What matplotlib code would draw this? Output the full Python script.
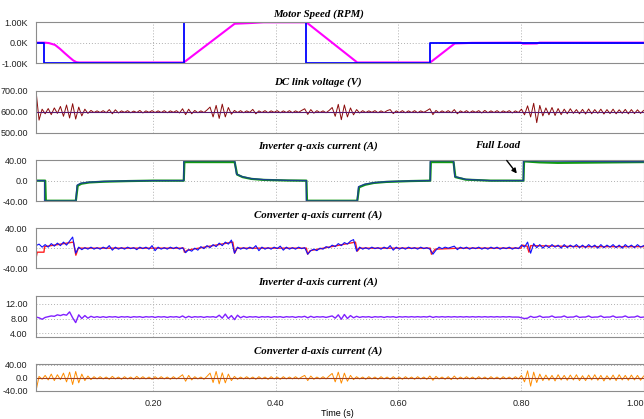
import matplotlib
matplotlib.use("Agg")
import matplotlib.pyplot as plt
import numpy as np

# ---- data ----
# motor speed (RPM): reference (blue) and measured (pink), as breakpoints
speed_ref_t = [0.009, 0.0228, 0.0228, 0.250, 0.250, 0.4495, 0.4495, 0.6517, 0.6517, 1.0]
speed_ref_v = [0, 0, -1000, -1000, 1000, 1000, -1000, -1000, 0, 0]
speed_t = [0.009, 0.023, 0.030, 0.040, 0.048, 0.056, 0.064, 0.070, 0.075, 0.080,
           0.250, 0.333, 0.360, 0.380, 0.450, 0.533, 0.652, 0.692, 0.720, 0.800,
           0.803, 0.826, 0.830, 1.0]
speed_v = [0, 0, -20, -110, -300, -520, -730, -880, -960, -975,
           -975, 930, 965, 1000, 1000, -975, -975, -40, -10, 0,
           -50, -40, 0, 0]

# inverter q-axis current (A): reference (blue) and measured (green)
iq_inv_ref_t = [0.009, 0.023, 0.023, 0.074, 0.076, 0.082, 0.095, 0.120, 0.160, 0.200,
                0.250, 0.250, 0.333, 0.336, 0.345, 0.360, 0.380, 0.420, 0.450, 0.450,
                0.533, 0.535, 0.545, 0.560, 0.580, 0.620, 0.652, 0.652, 0.690, 0.692,
                0.710, 0.750, 0.804, 0.804, 1.0]
iq_inv_ref_v = [0, 0, -40, -40, -9, -5, -3, -1.5, -0.5, 0,
                0, 39, 39, 13, 8, 4, 2, 0.5, 0, -40,
                -40, -12, -7, -4, -2, -0.5, 0, 39, 39, 8,
                2.5, 0, 0, 39, 37]
iq_inv_t = [0.009, 0.024, 0.025, 0.074, 0.077, 0.083, 0.096, 0.120, 0.160, 0.200,
            0.250, 0.251, 0.333, 0.337, 0.346, 0.360, 0.380, 0.420, 0.450, 0.451,
            0.533, 0.536, 0.546, 0.560, 0.580, 0.620, 0.652, 0.653, 0.690, 0.693,
            0.710, 0.750, 0.804, 0.805, 0.830, 0.860, 0.910, 1.0]
iq_inv_v = [0, 0, -39.5, -39.5, -10, -6, -3.5, -2, -0.8, 0,
            0, 36.5, 36.5, 12, 7, 3.5, 1.5, 0.3, 0, -39.5,
            -39.5, -13, -8, -4.5, -2.5, -0.8, 0, 36.5, 36.5, 7,
            2, 0, 0, 38, 36, 35, 35.5, 36.5]

# converter q-axis current (A): measured trend (red) and noisy reference (blue)
iq_conv_meas_t = [0.009, 0.011, 0.022, 0.023, 0.070, 0.074, 0.078, 0.250, 0.251, 0.256,
                  0.330, 0.333, 0.337, 0.450, 0.452, 0.456, 0.530, 0.533, 0.537, 0.652,
                  0.654, 0.660, 0.700, 0.800, 0.802, 0.810, 0.813, 0.816, 0.900, 1.0]
iq_conv_meas_v = [-20, -8, -8, 3, 12, -14, 0, 0, -8, -4,
                  12, -10, 0, 0, -12, -5, 12, -6, 0, 0,
                  -12, -2, 0, 0, 6, 4, -8, 5, 3, 3]
iq_conv_ref = [
    5, 8, 2, 7, 2, 9, 4, 10, 5, 12, 6, 14, 22, -10, 2, -3, 1, -2, 2, -2,
    1, -2, 2, -1, 5, -4, 2, -2, 1, -2, 2, -1, 1, -3, 2, -1, 2, -2, 5, -5,
    2, -2, 1, -2, 2, -1, 2, -2, 1, -9, -3, -6, 0, -4, 3, -1, 5, 1, 7, 3,
    10, 5, 12, 8, 16, -10, 2, -2, 1, -2, 2, -1, 5, -5, 2, -2, 1, -2, 2, -1,
    4, -4, 2, -2, 1, -2, 2, -1, 1, -12, -5, -2, -5, 0, -2, 3, 1, 6, 3, 9,
    5, 11, 8, 14, 17, -6, 2, -2, 1, -2, 2, -1, 1, -2, 2, -1, 5, -4, 2, -2,
    1, -2, 2, -1, 1, -2, 2, -1, 1, -2, -12, -4, 2, -1, 2, 0, 2, 4, -3, 2,
    -1, 2, -2, 1, -1, 2, -2, 1, -2, 2, -1, 2, -2, 1, -1, 2, -2, 1, -1, 6,
    2, 12, -10, 9, 1, 7, 0, 6, 1, 7, 2, 6, 0, 7, 1, 6, 2, 7, 1, 6,
    1, 7, 2, 6, 0, 7, 1, 6, 2, 7, 1, 6, 0, 7, 2, 6, 1, 7, 2, 5,
]

# DC link voltage (V), sampled every ~5 ms
vdc = [
    700, 560, 612, 590, 615, 586, 618, 592, 625, 578, 632, 570, 638, 565, 622, 580, 612, 592, 606, 596,
    604, 596, 605, 595, 610, 590, 609, 594, 604, 597, 605, 595, 603, 596, 606, 594, 604, 597, 605, 596,
    604, 596, 605, 595, 604, 597, 605, 594, 614, 586, 612, 590, 606, 595, 604, 596, 608, 622, 575, 630,
    568, 636, 575, 620, 588, 606, 596, 605, 595, 604, 597, 611, 590, 604, 596, 605, 595, 604, 597, 605,
    595, 604, 596, 605, 595, 604, 597, 606, 614, 587, 610, 593, 605, 596, 604, 595, 606, 620, 578, 635,
    562, 632, 575, 618, 585, 610, 594, 605, 596, 604, 597, 605, 595, 604, 596, 605, 610, 591, 604, 596,
    605, 595, 604, 596, 605, 595, 604, 597, 605, 614, 586, 606, 595, 604, 596, 605, 595, 610, 590, 604,
    596, 605, 595, 604, 597, 605, 594, 606, 595, 604, 596, 605, 595, 604, 597, 605, 594, 604, 596, 612,
    585, 628, 575, 640, 548, 630, 580, 618, 585, 620, 582, 615, 586, 612, 590, 614, 592, 610, 590, 611,
    589, 613, 590, 610, 592, 612, 589, 610, 591, 612, 590, 609, 592, 611, 590, 610, 591, 609, 592, 606,
]
vdc_ref = 600

# inverter d-axis current (A)
id_inv = [
    8.4, 8.2, 7.8, 8.3, 8.5, 8.7, 8.6, 9.0, 8.8, 9.1, 8.9, 9.8, 8.2, 6.9, 9.0, 8.0, 8.8, 8.1, 8.6, 8.3,
    8.5, 8.3, 8.5, 8.3, 8.5, 8.4, 8.5, 8.3, 8.5, 8.4, 8.5, 8.3, 8.5, 8.4, 8.5, 8.3, 8.5, 8.4, 8.5, 8.3,
    8.5, 8.4, 8.5, 8.3, 8.5, 8.4, 8.5, 8.3, 8.7, 8.2, 8.6, 8.3, 8.5, 8.4, 8.5, 8.3, 8.5, 8.4, 8.5, 8.3,
    8.9, 8.1, 9.2, 8.0, 8.8, 7.7, 8.9, 8.2, 8.6, 8.3, 8.5, 8.4, 8.5, 8.3, 8.5, 8.4, 8.5, 8.3, 8.5, 8.4,
    8.5, 8.3, 8.5, 8.4, 8.5, 8.3, 8.5, 8.4, 8.6, 8.2, 8.6, 8.3, 8.5, 8.4, 8.5, 8.3, 8.5, 8.7, 8.1, 9.0,
    7.8, 9.1, 8.0, 8.8, 8.2, 8.6, 8.3, 8.5, 8.4, 8.5, 8.3, 8.5, 8.4, 8.5, 8.3, 8.5, 8.4, 8.5, 8.3, 8.5,
    8.4, 8.5, 8.4, 8.5, 8.4, 8.5, 8.4, 8.5, 8.4, 8.6, 8.3, 8.5, 8.4, 8.5, 8.4, 8.5, 8.4, 8.5, 8.4, 8.5,
    8.4, 8.5, 8.4, 8.5, 8.4, 8.5, 8.4, 8.5, 8.4, 8.5, 8.4, 8.5, 8.4, 8.5, 8.4, 8.5, 8.4, 8.4, 8.4, 8.2,
    8.0, 8.1, 8.6, 8.3, 8.4, 8.7, 8.3, 8.4, 8.4, 8.7, 8.3, 8.4, 8.4, 8.7, 8.3, 8.4, 8.4, 8.7, 8.3, 8.4,
    8.4, 8.7, 8.3, 8.4, 8.4, 8.7, 8.3, 8.4, 8.4, 8.7, 8.3, 8.4, 8.4, 8.7, 8.3, 8.4, 8.4, 8.7, 8.3, 8.4,
]

# converter d-axis current (A)
id_conv = [
    -40, 5, -4, 8, -6, 12, -8, 10, -5, 15, -12, 18, -20, 20, -15, 12, -8, 6, -5, 4,
    -3, 4, -3, 3, -4, 5, -3, 3, -4, 4, -3, 3, -4, 5, -3, 4, -3, 3, -4, 4,
    -3, 4, -3, 3, -4, 4, -3, 3, 10, -10, 8, -6, 4, -3, 3, -4, 5, 15, -14, 20,
    -18, 16, -15, 12, -8, 5, -4, 3, -3, 4, -3, 3, -4, 4, -3, 3, -4, 4, -3, 3,
    -4, 4, -3, 3, -3, 4, -3, 3, 8, -8, 6, -4, 3, -3, 4, -3, 6, 14, -12, 18,
    -16, 15, -10, 8, -5, 4, -3, 3, -4, 4, -3, 3, -4, 4, -3, 3, -4, 4, -3, 3,
    -4, 4, -3, 3, -4, 4, -3, 3, -4, 6, -7, 5, -3, 3, -4, 4, -5, 6, -4, 3,
    -3, 4, -3, 3, -4, 4, -3, 3, -4, 4, -3, 3, -4, 4, -3, 3, -4, 4, -3, 8,
    -12, 22, -25, 18, -14, 12, -8, 9, -7, 8, -9, 10, -6, 8, -7, 9, -6, 10, -8, 7,
    -8, 9, -6, 10, -7, 8, -9, 7, -6, 9, -8, 10, -6, 8, -7, 9, -6, 8, -7, 6,
]
id_conv_ref = 0

titles = ["Motor Speed (RPM)", "DC link voltage (V)", "Inverter q-axis current (A)",
          "Converter q-axis current (A)", "Inverter d-axis current (A)",
          "Converter d-axis current (A)"]
yticks = [[-1000, 0, 1000], [500, 600, 700], [-40, 0, 40], [-40, 0, 40], [4, 8, 12], [-40, 0, 40]]
yticklabels = [["-1.00K", "0.0K", "1.00K"], ["500.00", "600.00", "700.00"],
               ["-40.00", "0.0", "40.00"], ["-40.00", "0.0", "40.00"],
               ["4.00", "8.00", "12.00"], ["-40.00", "0.0", "40.00"]]
ylims = [(-1000, 1000), (500, 700), (-40, 40), (-40, 40), (3.0, 14.1), (-40, 43)]
xticks = [0.2, 0.4, 0.6, 0.8, 1.0]
xticklabels = ["0.20", "0.40", "0.60", "0.80", "1.00"]

t = np.linspace(0.009, 1.0, len(vdc))

# ---- figure ----
W, H = 644, 419
fig = plt.figure(figsize=(W / 100, H / 100), dpi=100)

# panel extents in pixels (top, bottom) and title baselines
panels_px = [(22.3, 63), (90.7, 132.7), (160.3, 201), (228, 268.3), (296, 337), (364, 391)]
title_base_px = [16.8, 84.5, 148.3, 217.3, 284.5, 353.3]
left_px, right_px = 36, 643.6

axes = []
for (top, bot) in panels_px:
    ax = fig.add_axes([left_px / W, 1 - bot / H, (right_px - left_px) / W, (bot - top) / H])
    axes.append(ax)

for i, ax in enumerate(axes):
    ax.set_xlim(0.009, 1.0)
    ax.set_ylim(*ylims[i])
    ax.set_yticks(yticks[i])
    ax.set_yticklabels(yticklabels[i], fontsize=6.5, family="Liberation Sans")
    ax.set_xticks(xticks)
    if i == len(axes) - 1:
        labs = ax.set_xticklabels(xticklabels, fontsize=6.5, family="Liberation Sans")
        labs[-1].set_ha("right")  # keep the last label inside the figure
    else:
        ax.set_xticklabels([])
    ax.tick_params(length=0, pad=6, colors="#222222")
    ax.grid(True, linestyle=(0, (1, 2)), color="#b0b0b0", linewidth=0.7)
    ax.set_axisbelow(True)
    for s in ax.spines.values():
        s.set_color("#8c8c8c")
        s.set_linewidth(0.8)
    fig.text(0.494, 1 - title_base_px[i] / H, titles[i], ha="center", va="baseline",
             family="Liberation Serif", style="italic", weight="bold", fontsize=7.8)

# motor speed
axes[0].plot(speed_t, speed_v, color="#ff00ff", lw=1.5)
axes[0].plot(speed_ref_t, speed_ref_v, color="#0000ff", lw=1.3)

# DC link
axes[1].plot(t, vdc, color="#8b0a0a", lw=0.7)
axes[1].axhline(vdc_ref, color="#5a1a70", lw=0.8)

# inverter q
axes[2].plot(iq_inv_t, iq_inv_v, color="#119911", lw=1.6)
axes[2].plot(iq_inv_ref_t, iq_inv_ref_v, color="#1a3a9a", lw=1.0, alpha=0.9)
axes[2].annotate("", xy=(0.796, 9.7), xytext=(0.774, 44),
                 arrowprops=dict(arrowstyle="-|>", color="black", lw=1.0, mutation_scale=7),
                 annotation_clip=False)
fig.text(498 / W, 1 - 148.3 / H, "Full Load", ha="center", va="baseline",
         family="Liberation Serif", style="italic", weight="bold", fontsize=7.8)

# converter q
axes[3].plot(iq_conv_meas_t, iq_conv_meas_v, color="#ff2020", lw=1.0)
axes[3].plot(t, iq_conv_ref, color="#1010ff", lw=0.8)

# inverter d
axes[4].plot(t, id_inv, color="#8020ff", lw=1.0)

# converter d
axes[5].plot(t, id_conv, color="#ff8c00", lw=0.7)
axes[5].axhline(id_conv_ref, color="#a04020", lw=0.8)

fig.text(337 / W, 1 - 413 / H, "Time (s)", ha="center", va="center",
         family="Liberation Sans", fontsize=6.5)

fig.savefig("out.png", dpi=100)
